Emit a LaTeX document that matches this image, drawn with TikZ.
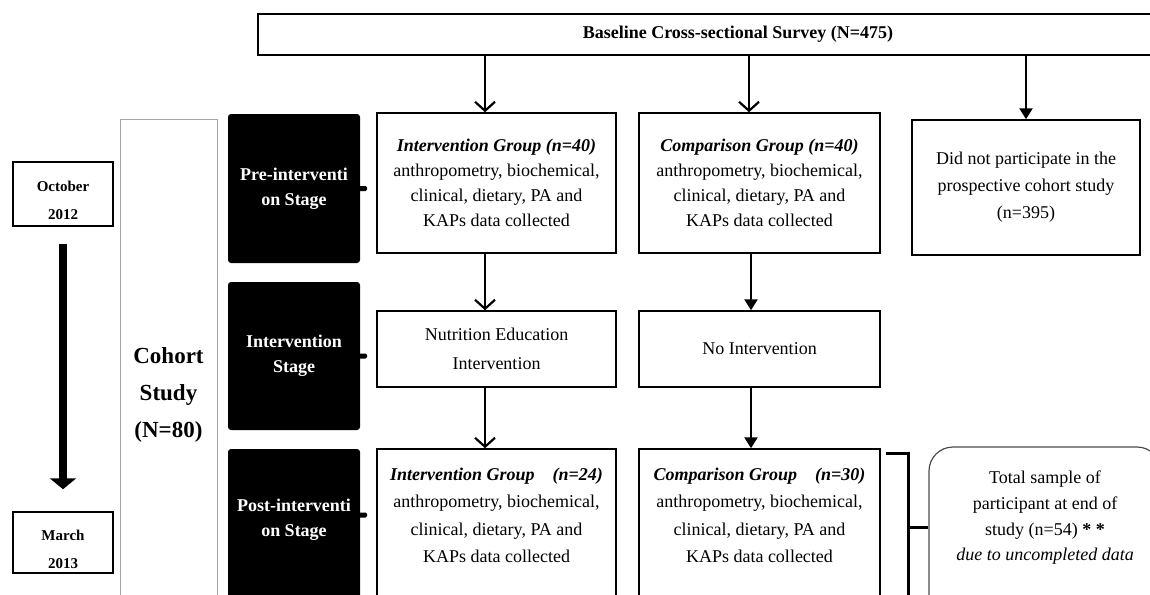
\documentclass[tikz,border=0pt]{standalone}
\usepackage{fontspec}
\setmainfont{Liberation Serif}
\usetikzlibrary{arrows.meta,positioning}
\tikzset{>=Stealth,every node/.style={inner sep=0pt},
box/.style={draw,line width=1.5pt,align=center,font=\fontsize{18}{25}\selectfont},
txt/.style={align=center,font=\fontsize{18}{25}\selectfont},
datebox/.style={draw,line width=1.5pt,minimum width=100pt},
datetxt/.style={align=center,font=\bfseries\fontsize{15}{28}\selectfont},
stagebox/.style={fill=black,rounded corners=3pt,minimum width=132pt},
stagetxt/.style={text=white,align=center,font=\bfseries\fontsize{18}{25}\selectfont},
openarr/.style={line width=2.4pt,-{Straight Barb[length=9pt,width=20pt,line width=2.2pt]}},
fillarr/.style={line width=2.4pt,-{Triangle[length=11pt,width=13pt]}},
bracket/.style={line width=3pt}}
\newcommand{\grp}[1]{\textbf{\textit{#1}}}
\newcommand{\datalines}{anthropometry, biochemical,\\clinical, dietary, PA and\\KAPs data collected}

\begin{document}
\begin{tikzpicture}[x=1pt,y=-1pt]
\clip (0,0) rectangle (1150,594);
% timeline
\node[datebox,minimum height=64pt] (oct) at (63,194) {};
\node[datetxt] at (63,200) {October\\2012};
\node[datebox,minimum height=61pt] (mar) at (63,542.5) {};
\node[datetxt] at (63,549) {March\\2013};
\draw[line width=7.5pt,-{Triangle[length=11pt,width=26pt]}] ([yshift=-17pt]oct.south) -- ([yshift=22pt]mar.north);
\node[draw=gray!70,line width=1pt,minimum width=97pt,minimum height=501pt] (cohort) at (168.5,369.5) {};
\node[txt,font=\bfseries\fontsize{23}{37}\selectfont] (cohortT) at (168.5,395) {Cohort\\Study\\(N=80)};
% stages
\node[stagebox,minimum height=149pt] (stPre) at (294,188.5) {};
\node[stagetxt] at (stPre) {Pre-interventi\\on Stage};
\node[stagebox,minimum height=148pt] (stMid) at (294,356) {};
\node[stagetxt] at (stMid) {Intervention\\Stage};
\node[stagebox,minimum height=171pt] (stPost) at (294,534.5) {};
\node[stagetxt] (stPostT) at (294,520) {Post-interventi\\on Stage};
\foreach \s/\y in {stPre/188.5,stMid/356,stPost/515}
  \fill[rounded corners=1.5pt] (\s.east |- 0,\y) ++(-2,-2.5) rectangle ++(9,5);
% survey
\node[box,minimum width=960pt,minimum height=41pt,font=\bfseries\fontsize{18}{25}\selectfont] (top) at (738,34.5) {Baseline Cross-sectional Survey (N=475)};
\node[box,minimum width=239pt,minimum height=140pt] (iPre) at (496.5,183) {\grp{Intervention Group (n=40)}\\\datalines};
\node[box,minimum width=241pt,minimum height=140pt] (cPre) at (759.5,183) {\grp{Comparison Group (n=40)}\\\datalines};
\node[box,minimum width=228pt,minimum height=135pt,font=\fontsize{18}{27}\selectfont] (dnp) at (1026,187.5) {Did not participate in the\\prospective cohort study\\(n=395)};
\node[box,minimum width=239pt,minimum height=76pt,font=\fontsize{18}{29}\selectfont] (iMid) at (496.5,349) {Nutrition Education\\Intervention};
\node[box,minimum width=241pt,minimum height=76pt] (cMid) at (759.5,349) {No Intervention};
\node[box,minimum width=239pt,minimum height=171pt] (iPost) at (496.5,534.5) {};
\node[txt,font=\fontsize{18}{27.5}\selectfont] at (496.5,515.5) {\grp{Intervention Group\hspace{1em}(n=24)}\\\datalines};
\node[box,minimum width=241pt,minimum height=171pt] (cPost) at (759.5,534.5) {};
\node[txt,font=\fontsize{18}{27.5}\selectfont] at (759.5,515.5) {\grp{Comparison Group\hspace{1em}(n=30)}\\\datalines};
\node[draw=gray!60!black,line width=1.2pt,rounded corners=24pt,minimum width=232pt,minimum height=193pt] (total) at (1045,543.5) {};
\node[txt,font=\fontsize{18}{25.7}\selectfont] at (1045,518) {Total sample of\\participant at end of\\study (n=54) \textbf{* *}\\\textit{due to uncompleted data}};
% arrows
\draw[openarr] ([xshift=-11.5pt]iPre.north |- top.south) -- ([xshift=-11.5pt]iPre.north);
\draw[openarr] ([xshift=-10.5pt]cPre.north |- top.south) -- ([xshift=-10.5pt]cPre.north);
\draw[fillarr] (dnp.north |- top.south) -- (dnp.north);
\draw[openarr] ([xshift=-11.5pt]iPre.south) -- ([xshift=-11.5pt]iMid.north);
\draw[openarr] ([xshift=-11.5pt]iMid.south) -- ([xshift=-11.5pt]iPost.north);
\draw[fillarr] ([xshift=-8.5pt]cPre.south) -- ([xshift=-8.5pt]cMid.north);
\draw[fillarr] ([xshift=-8.5pt]cMid.south) -- ([xshift=-8.5pt]cPost.north);
% bracket
\coordinate (brTop) at (886,453);\coordinate (brBot) at (908,620);\coordinate (brMid) at (908,527);
\draw[bracket] (brTop) -| (brBot);
\draw[bracket] (brMid) -- (total.west |- brMid);
\end{tikzpicture}
\end{document}
